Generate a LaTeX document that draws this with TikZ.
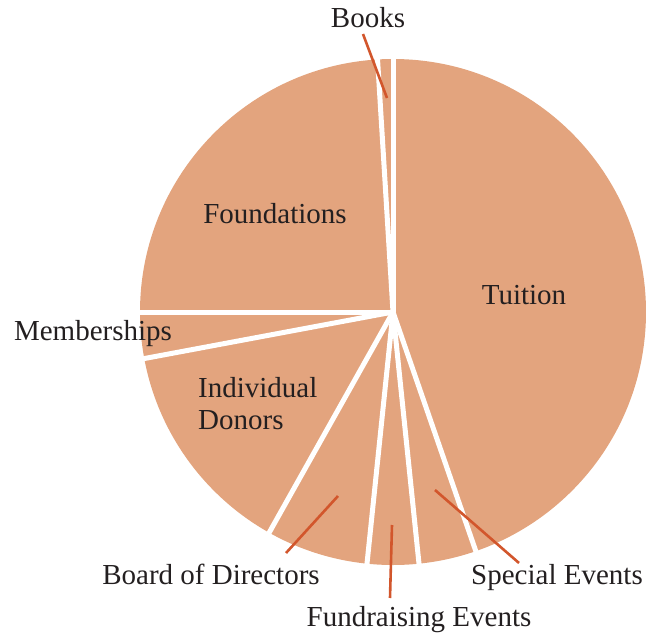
\documentclass[tikz,border=0pt]{standalone}
\usepackage{fontspec}
\setmainfont{Liberation Serif}
\definecolor{piefill}{HTML}{E3A47E}
\definecolor{leadercol}{HTML}{D2562C}
\definecolor{textcol}{HTML}{231F20}
\begin{document}
\begin{tikzpicture}[x=1pt,y=-1pt,
  pie/.style={fill=piefill},
  sep/.style={draw=white,line width=5pt},
  leader/.style={draw=leadercol,line width=2.6pt},
  lbl/.style={text=textcol,font=\fontsize{29}{32}\selectfont,inner sep=0pt}]
\useasboundingbox (0,0) rectangle (646,640);
\coordinate (c) at (393,312);
\fill[pie] (c) circle (253pt);
% separators
\foreach \a [count=\i] in {90,93.5,180,190.6,-119.3,-95.9,-84.1,-70.9}
  \path[sep] (c) -- ++(\a:262pt) coordinate (s\i);
% labels
\node[lbl] (books) at (368,18) {Books};
\node[lbl] (found) at (275,214) {Foundations};
\node[lbl] (tuit) at (524,295) {Tuition};
\node[lbl] (memb) at (93,334) {Memberships};
\node[lbl,align=left,anchor=west] (indiv) at (198,404) {Individual\\Donors};
\node[lbl] (board) at (211,574) {Board of Directors};
\node[lbl] (fund) at (419,620) {Fundraising Events};
\node[lbl] (spec) at (557,578) {Special Events};
% leaders
\coordinate (lb1) at (363,34);  \coordinate (lb2) at (387,98);
\coordinate (ld1) at (338,496); \coordinate (ld2) at (286,553);
\coordinate (lf1) at (392,525); \coordinate (lf2) at (390,598);
\coordinate (ls1) at (435,490); \coordinate (ls2) at (519,563);
\path[leader] (lb1) -- (lb2);
\path[leader] (ld1) -- (ld2);
\path[leader] (lf1) -- (lf2);
\path[leader] (ls1) -- (ls2);
\end{tikzpicture}
\end{document}
